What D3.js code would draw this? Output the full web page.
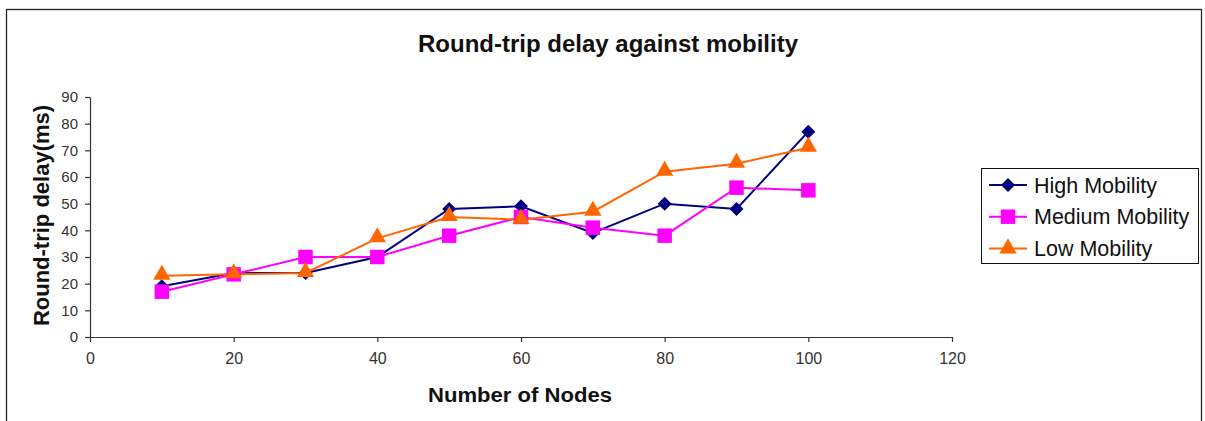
<!DOCTYPE html>
<html><head><meta charset="utf-8">
<script src="https://cdn.jsdelivr.net/npm/d3@7"></script>
<style>html,body{margin:0;padding:0;background:#fff;}svg{display:block;font-family:"Liberation Sans",Arial,sans-serif;}</style>
</head><body>
<svg id="c" width="1205" height="421"></svg>
<script>
const nodes = [10, 20, 30, 40, 50, 60, 70, 80, 90, 100];
const highMobility = [19, 24, 24, 30, 48, 49, 39, 50, 48, 77];
const mediumMobility = [17, 23.5, 30, 30, 38, 45, 41, 38, 56, 55];
const lowMobility = [23, 23.5, 24, 37, 45, 44, 47, 62, 65, 71];
const xTicks = [0, 20, 40, 60, 80, 100, 120];
const yTicks = [0, 10, 20, 30, 40, 50, 60, 70, 80, 90];
const seriesNames = ["High Mobility", "Medium Mobility", "Low Mobility"];

const series = [
  {name: seriesNames[0], values: highMobility, color: "#000080", symbol: d3.symbolDiamond2, size: 1.0},
  {name: seriesNames[1], values: mediumMobility, color: "#FF00FF", symbol: d3.symbolSquare, size: 1.0},
  {name: seriesNames[2], values: lowMobility, color: "#FF6600", symbol: d3.symbolTriangle, size: 1.0}
];

const svg = d3.select("#c");
svg.append("rect").attr("x", 6.5).attr("y", 9.5).attr("width", 1195).attr("height", 420)
  .attr("fill", "#fff").attr("stroke", "#222").attr("stroke-width", 1.3);

const x = d3.scaleLinear().domain([0, 120]).range([90, 952]);
const y = d3.scaleLinear().domain([0, 90]).range([337, 97]);

// Axes
const xAxis = svg.append("g").attr("transform", "translate(0,337)")
  .call(d3.axisBottom(x).tickValues(xTicks).tickSize(5).tickPadding(11).tickSizeOuter(0));
const yAxis = svg.append("g").attr("transform", "translate(90,0)")
  .call(d3.axisLeft(y).tickValues(yTicks).tickSize(5).tickPadding(7).tickSizeOuter(0));
[xAxis, yAxis].forEach(g => {
  g.select(".domain").attr("stroke", "#333").attr("stroke-width", 1.2);
  g.selectAll(".tick line").attr("stroke", "#333").attr("stroke-width", 1.2);
  g.selectAll(".tick text").attr("fill", "#333").attr("font-family", "Liberation Sans, Arial, sans-serif");
});
xAxis.selectAll(".tick text").attr("font-size", 16);
yAxis.selectAll(".tick text").attr("font-size", 15);

// Titles
svg.append("text").attr("x", 608).attr("y", 52).attr("text-anchor", "middle")
  .attr("font-size", 24).attr("font-weight", "bold").attr("fill", "#111")
  .text("Round-trip delay against mobility");
svg.append("text").attr("x", 520).attr("y", 401.5).attr("text-anchor", "middle")
  .attr("font-size", 21).attr("font-weight", "bold").attr("fill", "#111")
  .attr("textLength", 184).attr("lengthAdjust", "spacingAndGlyphs")
  .text("Number of Nodes");
svg.append("text").attr("transform", "translate(49,215.5) rotate(-90)").attr("text-anchor", "middle")
  .attr("font-size", 22).attr("font-weight", "bold").attr("fill", "#111")
  .text("Round-trip delay(ms)");

// Lines and markers
const line = d3.line().x((d, i) => x(nodes[i])).y(d => y(d));
const markerArea = {"Diamond": 150, "Square": 210, "Triangle": 150};
function symPath(s) {
  const area = s.symbol === d3.symbolSquare ? 210 : (s.symbol === d3.symbolTriangle ? 130 : 125);
  return d3.symbol().type(s.symbol).size(area)();
}
series.forEach(s => {
  svg.append("path").datum(s.values).attr("d", line).attr("fill", "none")
    .attr("stroke", s.color).attr("stroke-width", 2);
});
series.forEach(s => {
  svg.append("g").selectAll("path").data(s.values).join("path")
    .attr("d", symPath(s))
    .attr("transform", (d, i) => `translate(${x(nodes[i])},${y(d) + (s.symbol === d3.symbolTriangle ? -1 : 0)})`)
    .attr("fill", s.color);
});

// Legend
const lg = svg.append("g");
lg.append("rect").attr("x", 981.5).attr("y", 168.5).attr("width", 217).attr("height", 95)
  .attr("fill", "#fff").attr("stroke", "#111").attr("stroke-width", 1);
series.forEach((s, i) => {
  const cy = 185 + i * 31.7;
  lg.append("line").attr("x1", 989).attr("x2", 1027).attr("y1", cy).attr("y2", cy)
    .attr("stroke", s.color).attr("stroke-width", 2);
  lg.append("path").attr("d", symPath(s)).attr("transform", `translate(1008,${cy})`).attr("fill", s.color);
  lg.append("text").attr("x", 1034).attr("y", cy + 7.7).attr("font-size", 21.5).attr("fill", "#111")
    .text(s.name);
});
</script>
</body></html>
